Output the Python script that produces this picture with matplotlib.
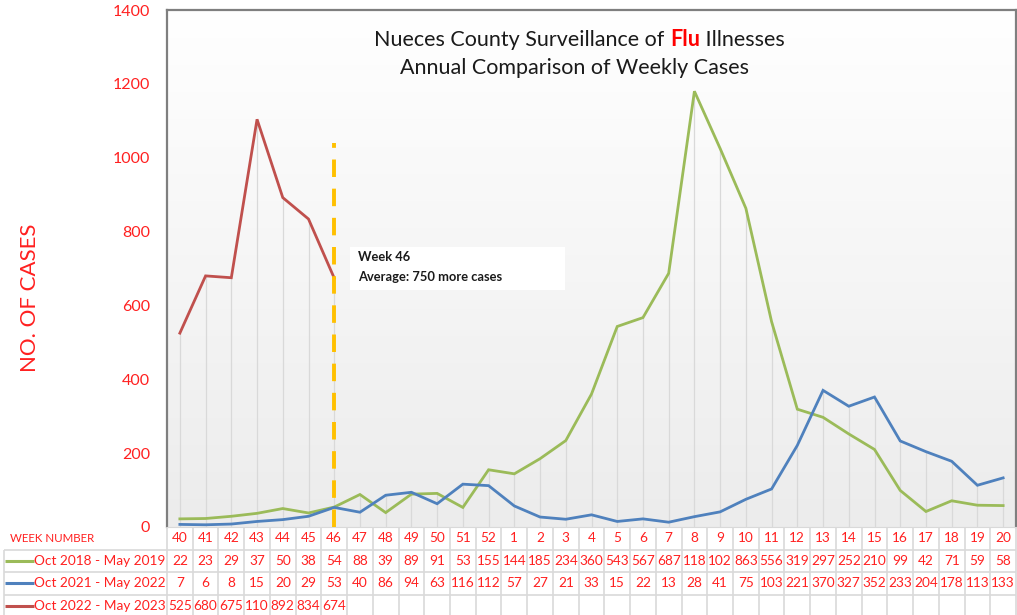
import matplotlib.pyplot as plt
import numpy as np
from matplotlib.patches import Rectangle

# weekly flu cases, Nueces County
weeks = [40, 41, 42, 43, 44, 45, 46, 47, 48, 49, 50, 51, 52,
         1, 2, 3, 4, 5, 6, 7, 8, 9, 10, 11, 12, 13, 14, 15, 16, 17, 18, 19, 20]
flu_2018 = [22, 23, 29, 37, 50, 38, 54, 88, 39, 89, 91, 53, 155,
            144, 185, 234, 360, 543, 567, 687, 1180, 1025, 863, 556, 319, 297,
            252, 210, 99, 42, 71, 59, 58]
flu_2021 = [7, 6, 8, 15, 20, 29, 53, 40, 86, 94, 63, 116, 112,
            57, 27, 21, 33, 15, 22, 13, 28, 41, 75, 103, 221, 370, 327, 352,
            233, 204, 178, 113, 133]
flu_2022 = [525, 680, 675, 1104, 892, 834, 674]
labels = ['Oct 2018 - May 2019', 'Oct 2021 - May 2022', 'Oct 2022 - May 2023']
colors = ['#9BBB59', '#4F81BD', '#C0504D']

plt.rcParams['font.family'] = ['Lato', 'DejaVu Sans']

W, H = 1017, 615
fig = plt.figure(figsize=(W / 100, H / 100), dpi=100)
L, R, T, B = 167, 1016, 10, 527
ax = fig.add_axes([L / W, 1 - B / H, (R - L) / W, (B - T) / H])

x = np.arange(len(weeks))
series = [flu_2018, flu_2021, flu_2022]

# gradient background
grad = np.linspace(1, 0, 256).reshape(-1, 1)
ax.imshow(grad, extent=(-0.5, len(weeks) - 0.5, 0, 1400), aspect='auto',
          cmap=plt.matplotlib.colors.LinearSegmentedColormap.from_list('g', ['#ececec', '#ffffff']),
          zorder=0)

# drop lines
tops = [max(s[i] for s in series if i < len(s)) for i in x]
ax.vlines(x, 0, tops, color='#d9d9d9', lw=0.9, zorder=1)

for s, c in zip(series, colors):
    ax.plot(x[:len(s)], s, color=c, lw=2.0, zorder=3, solid_joinstyle='miter')

# week 46 marker
i46 = weeks.index(46)
ax.vlines(i46, 0, 1040, color='#FFC000', lw=2.8, linestyles=(0, (4.5, 3.0)), zorder=4)
ax.add_patch(Rectangle((i46 + 0.61, 642), 8.35, 116, fc='white', ec='none', zorder=5))
ax.text(i46 + 0.92, 731, 'Week 46', fontsize=9.3, fontweight='bold',
        color='#1a1a1a', va='center', ha='left', zorder=6)
ax.text(i46 + 0.92, 677, 'Average: 750 more cases', fontsize=9.3, fontweight='bold',
        color='#1a1a1a', va='center', ha='left', zorder=6)

ax.set_xlim(-0.5, len(weeks) - 0.5)
ax.set_ylim(0, 1400)
ax.set_yticks(range(0, 1401, 200))
ax.tick_params(axis='y', length=0, pad=12, labelcolor='#FF2020', labelsize=11.5)
ax.set_xticks([])
for sp in ['left', 'top', 'right']:
    ax.spines[sp].set_color('#7f7f7f')
    ax.spines[sp].set_linewidth(1.6)
ax.spines['bottom'].set_color('#d9d9d9')

fig.text(30 / W, 1 - 298 / H, 'NO. OF CASES', rotation=90, ha='center', va='center',
         color='#FF2020', fontsize=16)

# title
t1 = fig.text(374 / W, 1 - 40 / H, 'Nueces County Surveillance of ', fontsize=15.5,
              color='#1a1a1a', ha='left', va='center')
t2 = ax.annotate('Flu', xy=(1, 0), xycoords=t1, va='bottom', ha='left', fontsize=15.5,
                 color='#FF0000', fontweight='bold')
ax.annotate(' Illnesses', xy=(1, 0), xycoords=t2, va='bottom', ha='left', fontsize=15.5,
            color='#1a1a1a')
fig.text(574 / W, 1 - 68 / H, 'Annual Comparison of Weekly Cases', fontsize=15.5,
         color='#1a1a1a', ha='center', va='center')

# data table
rowh = 22.5
tab = fig.add_axes([0, 0, 1, (H - B) / H])
colw = (R - L) / len(weeks)
tab.set_xlim(-0.5 - L / colw, len(weeks) - 0.5 + (W - R) / colw)
tab.set_ylim((H - B) / rowh, 0)
tab.axis('off')
grid = '#d9d9d9'
red = '#FF2020'
n = len(weeks)
fs = 9.8
for i, w in enumerate(weeks):
    tab.text(i, 0.5, str(w), ha='center', va='center', color=red, fontsize=fs)
x_left = -0.5 - (L - 4) / colw
for r, (s, c, lab) in enumerate(zip(series, colors, labels), start=1):
    for i, v in enumerate(s):
        tab.text(i, r + 0.5, str(v)[:3], ha='center', va='center', color=red, fontsize=fs)
    tab.plot([x_left + 0.05, x_left + 1.15], [r + 0.5, r + 0.5], color=c, lw=2.2,
             solid_capstyle='butt')
    tab.text(x_left + 1.18, r + 0.5, lab, ha='left', va='center', color=red, fontsize=9.8)
# borders
tab.hlines(0.02, -0.5, n - 0.5, color=grid, lw=1.2)
for r in range(1, 5):
    tab.hlines(r, x_left, n - 0.5, color=grid, lw=1.2)
tab.vlines(np.arange(n + 1) - 0.5, 0, 4, color=grid, lw=1.2)
tab.vlines(x_left, 1, 4, color=grid, lw=1.2)
tab.text(-0.5 - (L - 10) / colw, 0.5, 'WEEK NUMBER', ha='left', va='center', color=red, fontsize=8.3)

fig.savefig('out.png', dpi=100)
